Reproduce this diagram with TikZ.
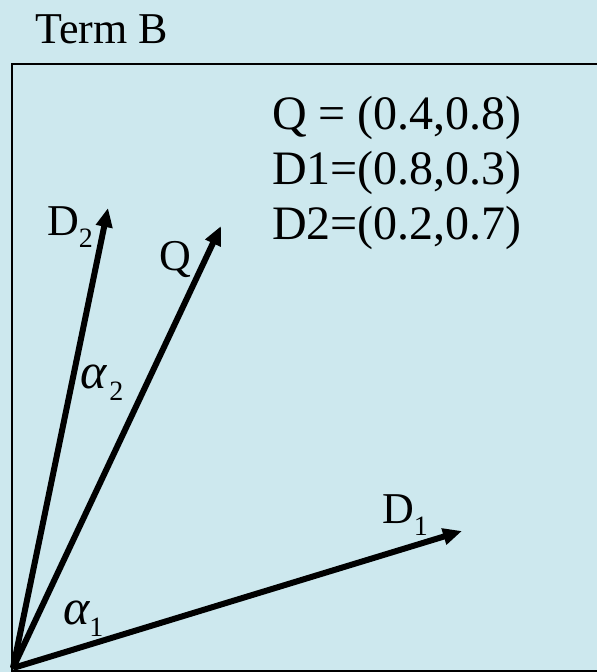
\documentclass[tikz,border=0pt]{standalone}
\usepackage{fontspec}
\setmainfont{Liberation Serif}
\usetikzlibrary{arrows.meta}
\definecolor{bgcyan}{RGB}{205,232,238}
\newcommand\mysub[1]{\raisebox{-12pt}{\upshape\fontsize{28}{28}\selectfont #1}}
\tikzset{
  vec/.style={line width=6pt, -{Triangle[length=19pt,width=16pt]}},
  lbl/.style={anchor=base west, inner sep=0pt, font=\fontsize{44}{50}\selectfont},
  alab/.style={anchor=base west, inner sep=0pt, font=\fontsize{50}{50}\selectfont},
  coordtxt/.style={anchor=base west, inner sep=0pt, align=left, font=\fontsize{48}{56}\selectfont}
}
\begin{document}
\begin{tikzpicture}[x=1pt,y=-1pt]
\useasboundingbox (0,0) rectangle (597,672);
\fill[bgcyan] (0,0) rectangle (597,672);
\clip (0,0) rectangle (597,672);
\draw[line width=2pt] (12,64) rectangle (700,671);
\node[lbl] (term) at (35,43) {Term B};
\node[coordtxt] (q) at (272,129) {Q = (0.4,0.8)};
\node[coordtxt] (d1) at (272,184) {D1=(0.8,0.3)};
\node[coordtxt] (d2) at (272,239) {D2=(0.2,0.7)};
\coordinate (O) at (13,668);
\coordinate (D1tip) at (462,531);
\coordinate (D2tip) at (108,208);
\coordinate (Qtip) at (221,226);
\draw[vec] (O) -- (D1tip);
\draw[vec] (O) -- (D2tip);
\draw[vec] (O) -- (Qtip);
\node[lbl] (lD2) at (47,235) {D\mysub{2}};
\node[lbl] (lQ) at (159,270) {Q};
\node[lbl] (lD1) at (382,523) {D\mysub{1}};
\node[alab] (la2) at (80,388) {\itshape α\hspace{3pt}\mysub{2}};
\node[alab] (la1) at (63,624) {\itshape α\hspace{0pt}\mysub{1}};
\end{tikzpicture}
\end{document}
